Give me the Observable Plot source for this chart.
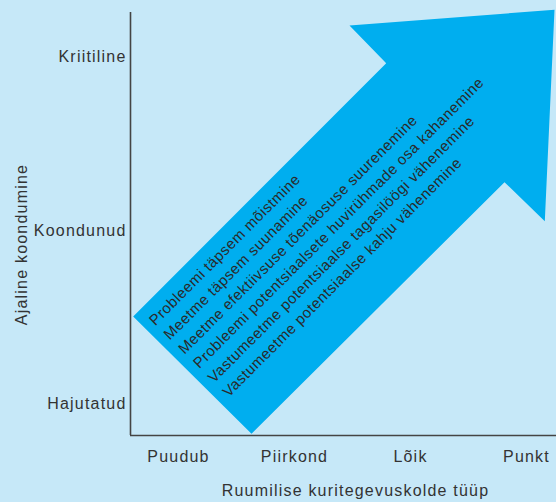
<!DOCTYPE html>
<html>
<head>
<meta charset="utf-8">
<script src="https://cdn.jsdelivr.net/npm/d3@7"></script>
<script src="https://cdn.jsdelivr.net/npm/@observablehq/plot@0.6"></script>
<style>
  html, body { margin: 0; padding: 0; background: #c6e8f8; }
  #chart svg { display: block; }
  #chart svg text[transform*="rotate(-45)"] { letter-spacing: 0.5px; }
</style>
</head>
<body>
<div id="chart"></div>
<script>
// Category axes
const xCategories = ["Puudub", "Piirkond", "Lõik", "Punkt"];
const xTickValues = [0, 1, 2, 3];
const yCategories = ["Hajutatud", "Koondunud", "Kriitiline"];
const yTickValues = [0, 1, 2];
const xTitle = "Ruumilise kuritegevuskolde tüüp";
const yTitle = "Ajaline koondumine";

// Visible extent of the axes (in category units)
const xDomain = [-0.4138, 3.2586];
const yDomain = [-0.1816, 2.2565];

// Arrow outline (category units)
const arrowX = [-0.3905, 0.6293, 2.8103, 3.1578, 3.2414, 1.4741, 1.7905];
const arrowY = [0.5043, -0.1718, 1.2784, 1.0536, 2.2720, 2.1816, 1.9643];

// Text lines inside the arrow
const arrowLines = [
  "Probleemi täpsem mõistmine",
  "Meetme täpsem suunamine",
  "Meetme efektiivsuse tõenäosuse suurenemine",
  "Probleemi potentsiaalsete huvirühmade osa kahanemine",
  "Vastumeetme potentsiaalse tagasilöögi vähenemine",
  "Vastumeetme potentsiaalse kahju vähenemine"
];
const lineX = [-0.230, -0.104, 0.023, 0.150, 0.276, 0.403];
const lineY = [0.468, 0.385, 0.303, 0.221, 0.138, 0.056];

const arrow = arrowX.map((x, i) => ({x, y: arrowY[i]}));
const lines = arrowLines.map((t, i) => ({t, x: lineX[i], y: lineY[i]}));

const bg = "#c6e8f8";
const arrowColor = "#00aeef";
const ink = "#333333";

const chart = Plot.plot({
  width: 556,
  height: 502,
  marginLeft: 130,
  marginRight: 0,
  marginTop: 12,
  marginBottom: 67,
  style: `background:${bg}; font-family:'Liberation Sans', Arial, sans-serif; font-size:16px; color:${ink}; letter-spacing:1.2px;`,
  x: {domain: xDomain, axis: null},
  y: {domain: yDomain, axis: null},
  marks: [
    Plot.line(arrow, {x: "x", y: "y", fill: arrowColor, stroke: "none", curve: "linear-closed"}),
    Plot.ruleX([xDomain[0]], {stroke: "#444", strokeWidth: 1.6}),
    Plot.ruleY([yDomain[0]], {stroke: "#444", strokeWidth: 1.6}),
    Plot.axisX(xTickValues, {tickFormat: (d) => xCategories[d], tickSize: 0, tickPadding: 15, label: null, fontSize: 16, fill: ink}),
    Plot.axisY(yTickValues, {tickFormat: (d) => yCategories[d], tickSize: 0, tickPadding: 4, label: null, fontSize: 16, fill: ink}),
    Plot.text(lines, {x: "x", y: "y", text: "t", rotate: -45, textAnchor: "start", fontSize: 15, fill: "#2a2a2a"}),
    Plot.text([xTitle], {frameAnchor: "bottom", textAnchor: "middle", dx: 12, dy: 60, fontSize: 16, fill: ink}),
    Plot.text([yTitle], {frameAnchor: "left", textAnchor: "middle", dx: -109, dy: 20.5, rotate: -90, fontSize: 16, fill: ink})
  ]
});
document.getElementById("chart").append(chart);
</script>
</body>
</html>
